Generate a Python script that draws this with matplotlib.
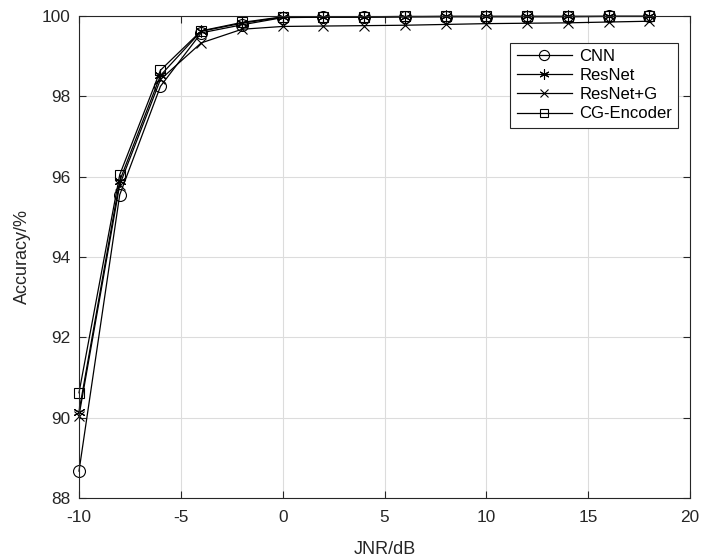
import matplotlib
matplotlib.use("Agg")
import matplotlib.pyplot as plt

plt.rcParams['font.family'] = ['Liberation Sans', 'DejaVu Sans']
plt.rcParams['axes.unicode_minus'] = False

jnr = [-10, -8, -6, -4, -2, 0, 2, 4, 6, 8, 10, 12, 14, 16, 18]
cnn = [88.67, 95.55, 98.25, 99.58, 99.78, 99.96, 99.97, 99.97, 99.98, 99.98, 99.98, 99.98, 99.98, 99.99, 99.99]
resnet = [90.15, 95.90, 98.52, 99.62, 99.82, 99.97, 99.98, 99.98, 99.98, 99.99, 99.99, 99.99, 99.99, 99.99, 99.99]
resnet_g = [90.05, 95.80, 98.42, 99.33, 99.67, 99.74, 99.75, 99.76, 99.77, 99.79, 99.81, 99.82, 99.83, 99.85, 99.87]
cg_encoder = [90.62, 96.05, 98.65, 99.63, 99.84, 99.98, 99.98, 99.98, 99.99, 99.99, 99.99, 99.99, 99.99, 99.99, 99.99]

series = [
    ("CNN", cnn, "o", 8.6),
    ("ResNet", resnet, (6, 2, 0), 8.5),
    ("ResNet+G", resnet_g, "x", 7),
    ("CG-Encoder", cg_encoder, "s", 7),
]

fig = plt.figure(figsize=(7.03, 5.58), dpi=100)
ax = fig.add_axes([79/703, 60/558, 611/703, 482/558])

for name, vals, mk, ms in series:
    ax.plot(jnr, vals, color='black', linewidth=0.9, marker=mk, markersize=ms,
            markerfacecolor='none', markeredgecolor='black', markeredgewidth=0.8,
            label=name, clip_on=False)

ax.set_xlim(-10, 20)
ax.set_ylim(88, 100)
ax.set_xticks([-10, -5, 0, 5, 10, 15, 20])
ax.set_yticks([88, 90, 92, 94, 96, 98, 100])
ax.grid(True, color='#dcdcdc', linewidth=0.8)
ax.set_axisbelow(True)
ax.tick_params(direction='in', top=True, right=True, labelsize=12.4, length=5, width=0.8,
               color='#262626', labelcolor='#262626')
ax.tick_params(axis='x', pad=9)
ax.tick_params(axis='y', pad=6)
for s in ax.spines.values():
    s.set_linewidth(0.8)
    s.set_color('#262626')
ax.set_xlabel('JNR/dB', fontsize=13, color='#262626', labelpad=11)
ax.set_ylabel('Accuracy/%', fontsize=13, color='#262626', labelpad=8)

leg = ax.legend(loc='upper right', bbox_to_anchor=(0.981, 0.945), fontsize=12, fancybox=False,
                edgecolor='#262626', framealpha=1, handlelength=3.3, borderpad=0.38,
                labelspacing=0.25, handletextpad=0.45, markerscale=0.85, borderaxespad=0)
leg.get_frame().set_linewidth(0.8)

fig.savefig('out.png', dpi=100)
